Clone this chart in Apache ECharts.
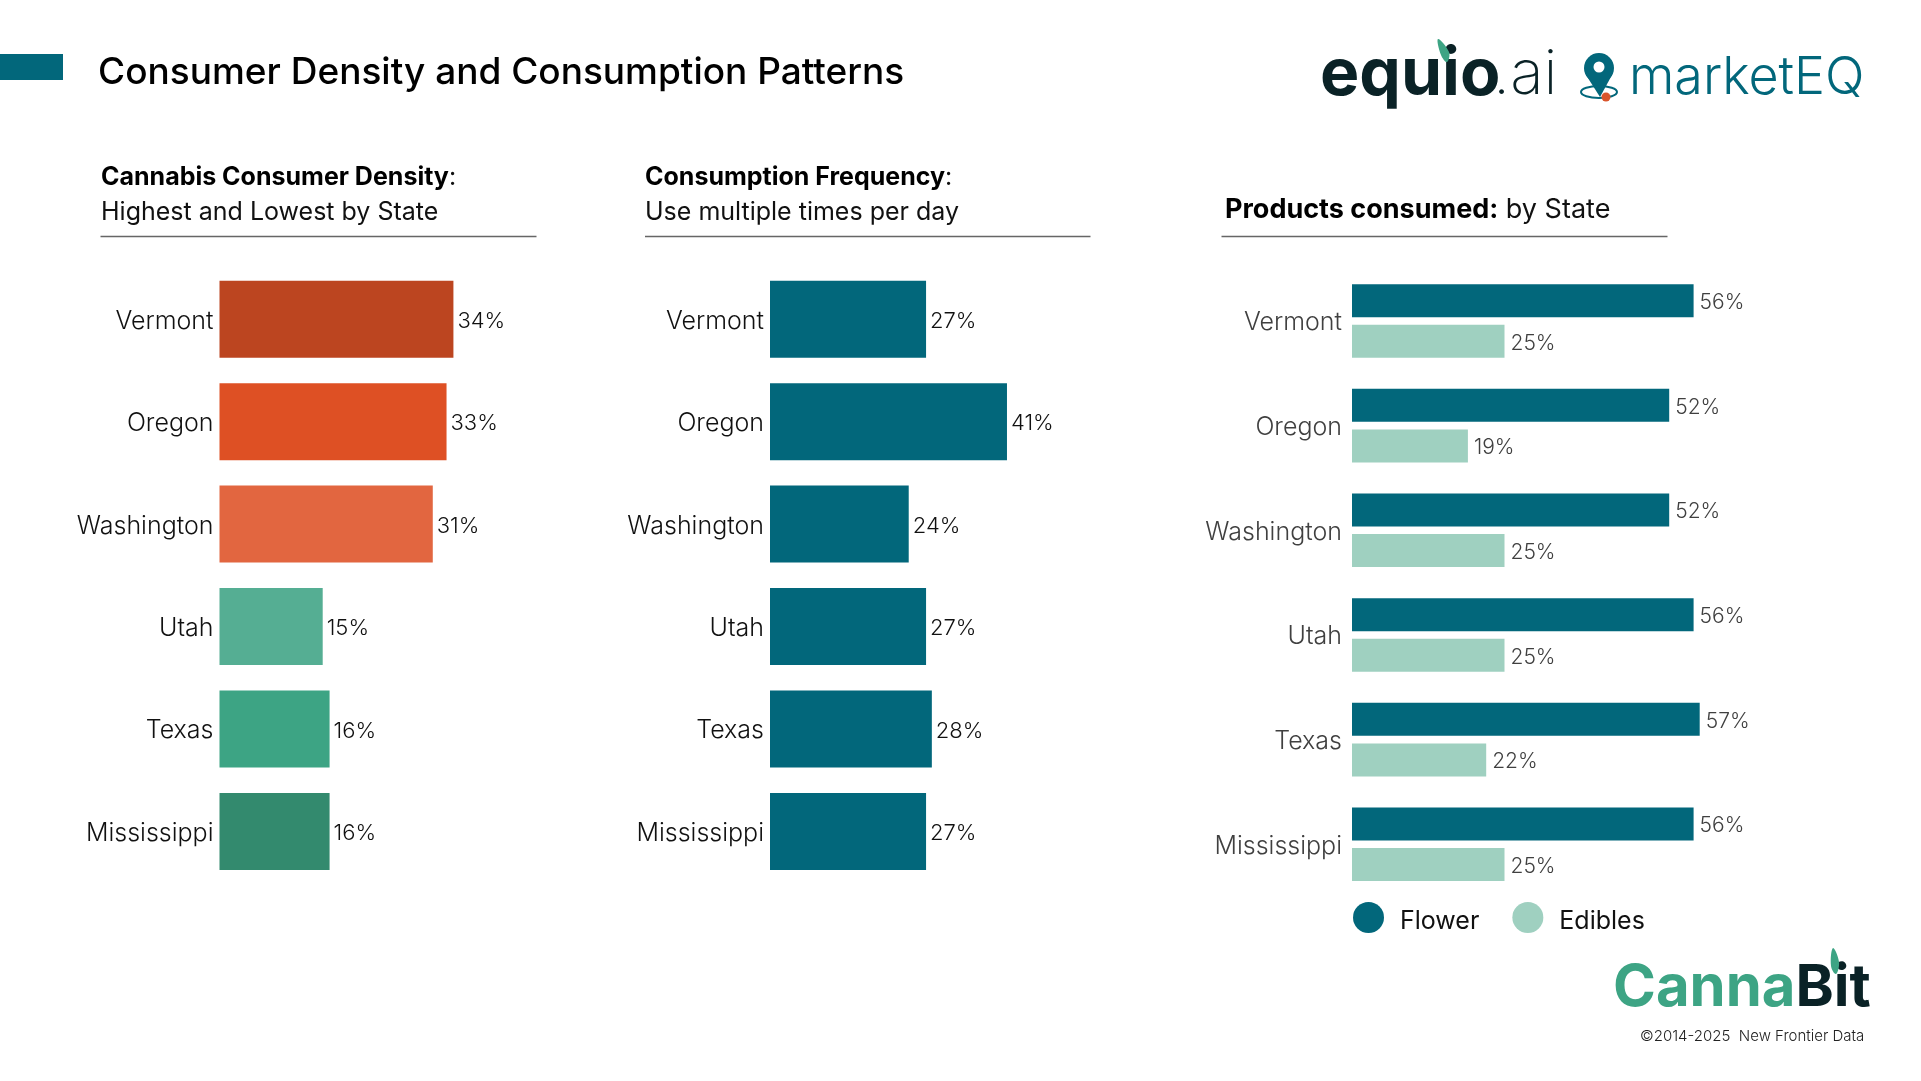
<!DOCTYPE html>
<html><head><meta charset="utf-8">
<style>html,body{margin:0;padding:0;background:#fff}#c{width:1921px;height:1081px}</style>
<script src="https://cdn.jsdelivr.net/npm/echarts@6/dist/echarts.min.js"></script>
</head><body><div id="c"></div>
<script>
const states = ['Vermont','Oregon','Washington','Utah','Texas','Mississippi'];
const density = [34,33,31,15,16,16];
const densityColors = ['#BC4520','#DE5024','#E26640','#55AE93','#3DA484','#338A6E'];
const frequency = [27,41,24,27,28,27];
const flower = [56,52,52,56,57,56];
const edibles = [25,19,25,25,22,25];
const TEAL = '#02677B', MINT = '#9FD0C0';
const FONT = 'Inter';

const chart = echarts.init(document.getElementById('c'), null, {renderer:'canvas'});
const yAxis = (gi, margin, color, pad) => ({type:'category', gridIndex:gi, data:states, inverse:true,
  axisLine:{show:false}, axisTick:{show:false}, splitLine:{show:false},
  axisLabel:{margin, color, fontFamily:FONT, fontWeight:300, fontSize:25,
    formatter:'{t|{value}}', rich:{t:{color, fontFamily:FONT, fontWeight:300, fontSize:25, padding:[pad,0,0,0]}}}});
const xAxis = (gi, max) => ({type:'value', gridIndex:gi, min:0, max, show:false});
const label = (dist, color, size) => ({show:true, position:'right', distance:dist, formatter:'{c}%',
  color, fontFamily:FONT, fontWeight:300, fontSize:size, offset:[0,2]});
const sub = (left, top, bold, rest, size) => ({left, top, padding:0,
  text:`{b|${bold}}{r|${rest}}`,
  textStyle:{rich:{b:{fontFamily:FONT,fontWeight:700,fontSize:size,color:'#000'},
                   r:{fontFamily:FONT,fontWeight:400,fontSize:size,color:'#111'}}}});
const line2 = (left, top, text) => ({left, top, padding:0, text,
  textStyle:{fontFamily:FONT,fontWeight:400,fontSize:25,color:'#111'}});
const rule = (x1,x2) => ({type:'line', shape:{x1,y1:236.5,x2,y2:236.5}, style:{stroke:'#666',lineWidth:1.5}});

chart.setOption({
  animation:false, backgroundColor:'#fff',
  title:[
    {left:98, top:54, padding:0, text:'Consumer Density and Consumption Patterns',
     textStyle:{fontFamily:FONT,fontWeight:500,fontSize:37,color:'#000'}},
    sub(101,165,'Cannabis Consumer Density',':',25),
    line2(101,200,'Highest and Lowest by State'),
    sub(645,165,'Consumption Frequency',':',25),
    line2(645,200,'Use multiple times per day'),
    sub(1225,196,'Products consumed:',' by State',27)
  ],
  grid:[
    {left:219.5, top:268, width:344, height:614.6},
    {left:770, top:268, width:289, height:614.6},
    {left:1352, top:268.6, width:427, height:628}
  ],
  xAxis:[xAxis(0,50),xAxis(1,50),xAxis(2,70)],
  yAxis:[yAxis(0,6,'#111',4),yAxis(1,6,'#111',4),yAxis(2,10,'#404040',4)],
  legend:{left:1353, top:902, padding:0, itemWidth:31, itemHeight:31, itemGap:33, icon:'circle', data:['Flower','Edibles'],
    formatter:'{t|{name}}',
    textStyle:{padding:[0,0,0,11], rich:{t:{fontFamily:FONT,fontWeight:400,fontSize:25,color:'#111',padding:[8,0,0,0]}}}},
  series:[
    {type:'bar', name:'Consumer density', xAxisIndex:0, yAxisIndex:0, barWidth:77,
     data:density.map((v,i)=>({value:v,itemStyle:{color:densityColors[i]}})), label:label(4,'#111',22)},
    {type:'bar', name:'Frequency', xAxisIndex:1, yAxisIndex:1, barWidth:77,
     data:frequency, itemStyle:{color:TEAL}, label:label(4,'#111',22)},
    {type:'bar', name:'Flower', xAxisIndex:2, yAxisIndex:2, barWidth:33, barGap:'23%',
     data:flower, itemStyle:{color:TEAL}, label:label(6,'#404040',21)},
    {type:'bar', name:'Edibles', xAxisIndex:2, yAxisIndex:2, barWidth:33, barGap:'23%',
     data:edibles, itemStyle:{color:MINT}, label:label(6,'#404040',21)}
  ],
  graphic:[
    {type:'rect', shape:{x:0,y:54,width:63,height:26}, style:{fill:TEAL}},
    rule(100.5,536.5), rule(645,1090.5), rule(1221.5,1667.5),
    // equio.ai logo
    {type:'text', x:1320, y:42, style:{text:'equio', font:'700 66px Inter', fill:'#0A2226'}},
    {type:'polygon', shape:{points:[[1438,39],[1449,52],[1447,62],[1441,55]], smooth:0.4}, style:{fill:'#3DA484'}},
    {type:'text', x:1493, y:44, style:{text:'.ai', font:'200 62px Inter', fill:'#0A2226'}},
    // marketEQ logo
    {type:'circle', shape:{cx:1599,cy:68,r:15}, style:{fill:TEAL}},
    {type:'polygon', shape:{points:[[1586,75],[1612,75],[1600,97]]}, style:{fill:TEAL}},
    {type:'circle', shape:{cx:1599,cy:67,r:5.5}, style:{fill:'#fff'}},
    {type:'ellipse', shape:{cx:1599,cy:92,rx:18,ry:6}, style:{fill:'none',stroke:TEAL,lineWidth:2}},
    {type:'circle', shape:{cx:1606,cy:97,r:4.5}, style:{fill:'#D9552C'}},
    {type:'text', x:1629, y:52, style:{text:'marketEQ', font:'300 52px Inter', fill:TEAL}},
    // CannaBit logo
    {type:'text', x:1613, y:960, style:{text:'{a|Canna}{b|Bit}', rich:{
      a:{font:'700 58px Inter', fill:'#3DA484', color:'#3DA484'},
      b:{font:'700 58px Inter', fill:'#0A2226', color:'#0A2226'}}}},
    {type:'polygon', shape:{points:[[1833,948],[1839,962],[1836,974],[1831,966]], smooth:0.4}, style:{fill:'#3DA484'}},
    {type:'text', x:1640, y:1029, style:{text:'©2014-2025  New Frontier Data', font:'300 15px Inter', fill:'#222'}}
  ]
});
</script></body></html>
